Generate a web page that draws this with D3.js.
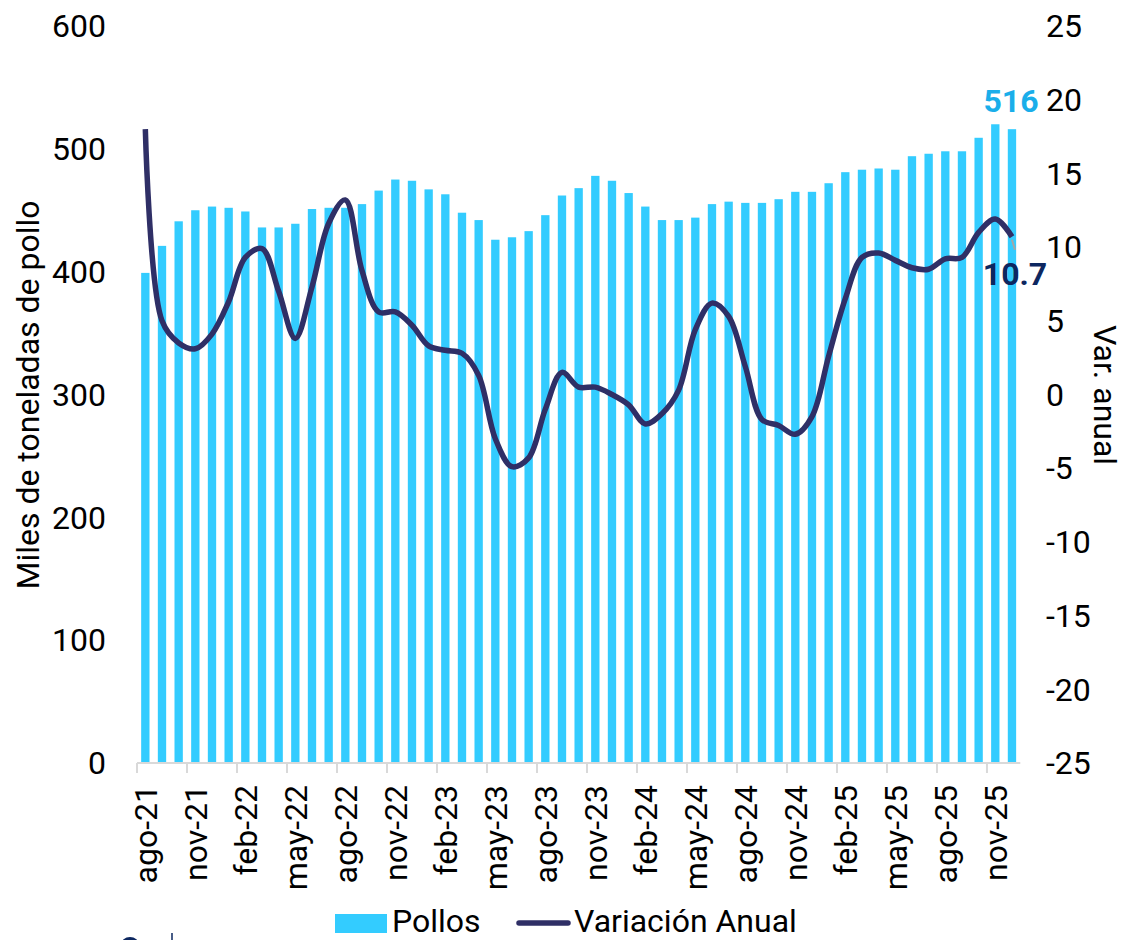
<!DOCTYPE html>
<html><head><meta charset="utf-8">
<script src="https://cdn.jsdelivr.net/npm/d3@7"></script>
<style>
body{margin:0;background:#fff}
text{font-family:Roboto,"Liberation Sans",sans-serif;fill:#000}
</style>
</head><body>
<svg id="c" width="1125" height="940"></svg>
<script>
const categories = [
 "ago-21","sep-21","oct-21","nov-21","dic-21",
 "ene-22","feb-22","mar-22","abr-22","may-22","jun-22","jul-22","ago-22","sep-22","oct-22","nov-22","dic-22",
 "ene-23","feb-23","mar-23","abr-23","may-23","jun-23","jul-23","ago-23","sep-23","oct-23","nov-23","dic-23",
 "ene-24","feb-24","mar-24","abr-24","may-24","jun-24","jul-24","ago-24","sep-24","oct-24","nov-24","dic-24",
 "ene-25","feb-25","mar-25","abr-25","may-25","jun-25","jul-25","ago-25","sep-25","oct-25","nov-25","dic-25"
];
const pollos = [
 399,421,441,450,453,
 452,449,436,436,439,451,452,452,455,466,475,474,
 467,463,448,442,426,428,433,446,462,468,478,474,
 464,453,442,442,444,455,457,456,456,459,465,465,
 472,481,483,484,483,494,496,498,498,509,520,516
];
const variacion = [
 18.0,5.0,3.5,3.1,4.1,
 6.3,9.3,9.9,7.0,3.8,7.3,11.6,13.2,8.4,5.6,5.6,4.7,
 3.3,3.0,2.8,1.3,-3.0,-4.9,-4.3,-1.0,1.5,0.5,0.5,0.0,
 -0.7,-2.0,-1.3,0.3,4.4,6.2,5.3,1.9,-1.7,-2.1,-2.7,-1.5,
 2.6,6.5,9.3,9.6,9.1,8.6,8.5,9.2,9.3,11.0,11.9,10.7
];
const leftTicks = [0,100,200,300,400,500,600];
const rightTicks = [-25,-20,-15,-10,-5,0,5,10,15,20,25];
const xTickLabels = ["ago-21","nov-21","feb-22","may-22","ago-22","nov-22","feb-23","may-23","ago-23","nov-23","feb-24","may-24","ago-24","nov-24","feb-25","may-25","ago-25","nov-25"];
const seriesNames = ["Pollos","Variación Anual"];
const yTitleLeft = "Miles de toneladas de pollo";
const yTitleRight = "Var. anual";

const BAR = "#33ccff", LINE = "#2f2f66";
const FS = 32;
const svg = d3.select("#c");
const x = d3.scaleBand().domain(categories).range([137,1020.3]).paddingInner(0.5).paddingOuter(0.25);
const yL = d3.scaleLinear().domain([0,600]).range([763,26]);
const yR = d3.scaleLinear().domain([-25,25]).range([763,26]);
const step = x.step();
const cx = d => x(d) + x.bandwidth()/2;
const edge = d => x(d) - step*0.25;

// bars
svg.append("g").selectAll("rect").data(categories).join("rect")
  .attr("x", d => x(d)).attr("width", x.bandwidth())
  .attr("y", (d,i) => yL(pollos[i])).attr("height", (d,i) => yL(0) - yL(pollos[i]))
  .attr("fill", BAR);

// x axis
const xa = svg.append("g");
xa.append("line").attr("x1", x.range()[0]).attr("x2", x.range()[1]).attr("y1", yL(0)).attr("y2", yL(0))
  .attr("stroke", "#d9d9d9").attr("stroke-width", 2);
xa.selectAll("line.t").data(xTickLabels).join("line").attr("class","t")
  .attr("x1", d => edge(d)).attr("x2", d => edge(d)).attr("y1", yL(0)).attr("y2", yL(0)+10)
  .attr("stroke", "#d9d9d9").attr("stroke-width", 2);
xa.selectAll("text").data(xTickLabels).join("text")
  .attr("transform", d => `translate(${cx(d)},785) rotate(-90)`)
  .attr("dy", "0.35em").attr("text-anchor", "end").attr("font-size", FS).text(d => d);

// left axis labels
svg.append("g").selectAll("text").data(leftTicks).join("text")
  .attr("x", 106).attr("y", d => yL(d)).attr("dy", "0.35em").attr("text-anchor", "end")
  .attr("font-size", FS).text(d => d);
// right axis labels
svg.append("g").selectAll("text").data(rightTicks).join("text")
  .attr("x", 1046).attr("y", d => yR(d)).attr("dy", "0.35em").attr("text-anchor", "start")
  .attr("font-size", FS).text(d => d);

// axis titles
svg.append("text").attr("transform", "translate(39,395) rotate(-90)").attr("text-anchor", "middle")
  .attr("font-size", FS).text(yTitleLeft);
svg.append("text").attr("transform", "translate(1094,395) rotate(90)").attr("text-anchor", "middle")
  .attr("font-size", FS).text(yTitleRight);

// line
const line = d3.line().x((d,i) => cx(categories[i])).y(d => yR(d)).curve(d3.curveCatmullRom.alpha(0.5));
svg.append("path").datum(variacion).attr("d", line).attr("fill", "none")
  .attr("stroke", LINE).attr("stroke-width", 5.5).attr("stroke-linejoin", "round");

// labels for last values
const last = categories.length - 1;
svg.append("line").attr("x1", cx(categories[last])).attr("y1", yR(variacion[last]) + 3)
  .attr("x2", cx(categories[last]) + 3).attr("y2", yR(variacion[last]) + 13)
  .attr("stroke", "#a6a6a6").attr("stroke-width", 2);
svg.append("text").attr("x", cx(categories[last]) - 1).attr("y", yL(pollos[last]) - 17)
  .attr("text-anchor", "middle").attr("font-size", FS).attr("font-weight", "bold")
  .style("fill", "#1aaeea").text(pollos[last]);
svg.append("text").attr("x", cx(categories[last]) + 3).attr("y", yR(variacion[last]) + 48)
  .attr("text-anchor", "middle").attr("font-size", FS).attr("font-weight", "bold")
  .style("fill", "#0d2760").text(variacion[last].toFixed(1));

// legend
const lg = svg.append("g");
lg.append("rect").attr("x", 335).attr("y", 914).attr("width", 52).attr("height", 19).attr("fill", BAR);
lg.append("text").attr("x", 392).attr("y", 932).attr("font-size", FS).text(seriesNames[0]);
lg.append("line").attr("x1", 519).attr("x2", 568).attr("y1", 923).attr("y2", 923)
  .attr("stroke", LINE).attr("stroke-width", 5.5).attr("stroke-linecap", "round");
lg.append("text").attr("x", 574).attr("y", 932).attr("font-size", FS).text(seriesNames[1]);

// partial logo mark at bottom edge
svg.append("ellipse").attr("cx", 130).attr("cy", 945).attr("rx", 9).attr("ry", 8).attr("fill", "#0d2760");
svg.append("line").attr("x1", 172).attr("x2", 172).attr("y1", 933).attr("y2", 940)
  .attr("stroke", "#0d2760").attr("stroke-width", 1.5);
</script>
</body></html>
